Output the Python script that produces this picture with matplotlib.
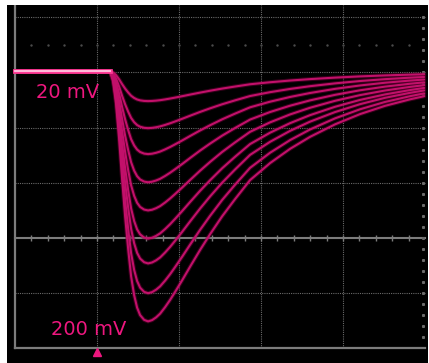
import numpy as np
import matplotlib
matplotlib.use("Agg")
import matplotlib.pyplot as plt

# time axis in screen divisions (step edge at 1.16 div)
time_div = [0.0, 1.16, 1.197, 1.233, 1.270, 1.306, 1.343, 1.380, 1.416, 1.453,
            1.489, 1.526, 1.575, 1.623, 1.672, 1.721, 1.770, 1.831, 1.892,
            1.953, 2.038, 2.136, 2.258, 2.380, 2.526, 2.684, 2.867, 3.111,
            3.355, 3.599, 3.904, 4.209, 4.514, 4.819, 4.99]
# normalised depth of the response
shape = [0.0, 0.0, 0.04, 0.13, 0.27, 0.43, 0.58, 0.71, 0.82, 0.895,
         0.945, 0.975, 0.994, 1.0, 0.995, 0.984, 0.969, 0.943, 0.914,
         0.882, 0.836, 0.781, 0.714, 0.651, 0.580, 0.511, 0.435, 0.367,
         0.310, 0.262, 0.212, 0.171, 0.138, 0.112, 0.0996]
# depth of each trace minimum below the baseline, in divisions
depth_div = [0.54, 1.03, 1.50, 2.01, 2.52, 3.03, 3.48, 4.02, 4.53]
baseline = 3.02

labels = ["20 mV", "200 mV"]

fig = plt.figure(figsize=(4.29, 3.63), dpi=100, facecolor="white")
ax = fig.add_axes([7 / 429, 0, 421 / 429, 358 / 363])
ax.set_facecolor("black")
ax.set_xlim(-0.0976, 5.037)
ax.set_ylim(-2.264, 4.221)
ax.set_xticks([])
ax.set_yticks([])
for sp in ax.spines.values():
    sp.set_visible(False)

grid_c = "#6a6a6a"
edge_c = "#7c7c7c"

# dotted graticule
for gx in [1, 2, 3, 4]:
    ax.plot([gx, gx], [-2, 4.221], color=grid_c, lw=0.8, ls=(0, (1, 1)), zorder=1)
for gy in [4, 3, 2, 1, -1]:
    ax.plot([0, 5], [gy, gy], color=grid_c, lw=0.8, ls=(0, (1, 1)), zorder=1)

# solid edges and centre line with minor ticks
ax.plot([0, 0], [-2, 4.221], color=edge_c, lw=1.6, zorder=1)
ax.plot([0, 5], [-2, -2], color=edge_c, lw=1.6, zorder=1)
ax.plot([0, 5], [0, 0], color=edge_c, lw=1.5, zorder=1)
minor_x = np.arange(0.2, 5.0, 0.2)
ax.vlines(minor_x, -0.055, 0.055, color=edge_c, lw=1.0, zorder=1)

# right edge dots and the faint dot row
minor_y = np.arange(-1.8, 4.01, 0.2)
ax.plot(np.full(len(minor_y), 4.98), minor_y, ls="none", marker="s",
        ms=1.2, color=grid_c, zorder=1)
ax.plot(minor_x, np.full(len(minor_x), 3.5), ls="none", marker="s",
        ms=0.7, color="#4a4a4a", zorder=1)

t = np.array(time_div)
s = np.array(shape)
for d in depth_div:
    y = baseline - d * s
    ax.plot(t, y, color="#7a003c", lw=3.0, alpha=0.45, zorder=2,
            solid_capstyle="round")
    ax.plot(t, y, color="#c2106a", lw=1.5, zorder=3, solid_capstyle="round")

# flat part before the step where all traces overlap
ax.plot(time_div[:2], [baseline, baseline], color="#ff3c96", lw=3.4, zorder=4)
ax.plot(time_div[:2], [baseline, baseline], color="#ffc8e2", lw=1.3, zorder=5)

ax.text(0.646, 2.64, labels[0], color="#ee177f", fontsize=14,
        ha="center", va="center", zorder=6)
ax.text(0.90, -1.65, labels[1], color="#ee177f", fontsize=14,
        ha="center", va="center", zorder=6)

# trigger marker
ax.plot([1.0], [-2.06], marker="^", ms=6, color="#ee177f", ls="none", zorder=6)

fig.savefig("out.png", dpi=100, facecolor="white")
